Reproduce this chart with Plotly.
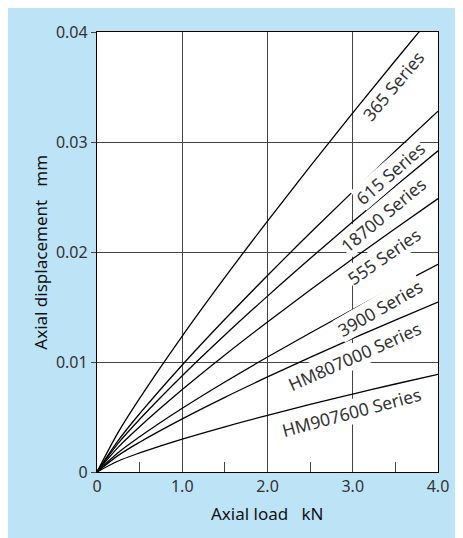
import plotly.graph_objects as go

# Axial load (kN)
load = [0, 0.25, 0.5, 1.0, 1.5, 2.0, 2.5, 3.0, 3.5, 4.0]

# Axial displacement (mm)
series_names = ["365 Series", "615 Series", "18700 Series", "555 Series",
                "3900 Series", "HM807000 Series", "HM907600 Series"]
s365 = [0, 0.00363, 0.00670, 0.01236, 0.01769, 0.02281, 0.02779, 0.03265, 0.03741, 0.04210]
s615 = [0, 0.00288, 0.00530, 0.00973, 0.01388, 0.01786, 0.02172, 0.02549, 0.02918, 0.03280]
s18700 = [0, 0.00262, 0.00479, 0.00875, 0.01245, 0.01599, 0.01941, 0.02274, 0.02600, 0.02920]
s555 = [0, 0.00226, 0.00411, 0.00749, 0.01064, 0.01364, 0.01655, 0.01938, 0.02214, 0.02485]
s3900 = [0, 0.00177, 0.00320, 0.00579, 0.00818, 0.01045, 0.01264, 0.01477, 0.01685, 0.01888]
s807 = [0, 0.00151, 0.00271, 0.00483, 0.00679, 0.00864, 0.01042, 0.01214, 0.01381, 0.01545]
s907 = [0, 0.00100, 0.00173, 0.00299, 0.00411, 0.00515, 0.00614, 0.00708, 0.00800, 0.00888]
series_values = [s365, s615, s18700, s555, s3900, s807, s907]

# label placement (data coords) and angles
label_x = [3.47, 3.44, 3.35, 3.37, 3.32, 3.02, 2.98]
label_y = [0.0351, 0.0272, 0.0234, 0.0196, 0.0149, 0.01056, 0.00547]
label_angle = [-50, -41, -40, -35, -30, -24, -15]

x_ticks = [0, 1, 2, 3, 4]
x_ticktext = ["0", "1.0", "2.0", "3.0", "4.0"]
y_ticks = [0, 0.01, 0.02, 0.03, 0.04]
y_ticktext = ["0", "0.01", "0.02", "0.03", "0.04"]

FONT = "Noto Sans"
TXT = "#333333"

fig = go.Figure()
for name, vals in zip(series_names, series_values):
    fig.add_trace(go.Scatter(x=load, y=vals, mode="lines", name=name,
                             line=dict(color="black", width=1.3, shape="spline"),
                             showlegend=False, hoverinfo="skip"))

annotations = []
for name, lx, ly, ang in zip(series_names, label_x, label_y, label_angle):
    annotations.append(dict(x=lx, y=ly, xref="x", yref="y", text=name,
                            showarrow=False, textangle=ang,
                            font=dict(family=FONT, size=17.5, color=TXT),
                            bgcolor="white", borderpad=0))
annotations.append(dict(x=0.5, y=-0.094, xref="paper", yref="paper",
                        text="Axial load&nbsp;&nbsp;&nbsp;kN", showarrow=False,
                        font=dict(family=FONT, size=17, color="#111111"),
                        xanchor="center", yanchor="middle"))
annotations.append(dict(x=-0.168, y=0.5, xref="paper", yref="paper",
                        text="Axial displacement&nbsp;&nbsp;&nbsp;mm", showarrow=False,
                        textangle=-90,
                        font=dict(family=FONT, size=17, color="#111111"),
                        xanchor="center", yanchor="middle"))

fig.update_layout(
    width=455, height=530,
    margin=dict(l=89, r=25, t=24, b=66),
    paper_bgcolor="#BDE3F7",
    plot_bgcolor="white",
    annotations=annotations,
)

fig.update_xaxes(range=[0, 4], tickvals=x_ticks, ticktext=x_ticktext,
                 showgrid=True, gridcolor="#444444", gridwidth=1,
                 showline=True, linecolor="black", linewidth=1.3, mirror=True,
                 ticks="", zeroline=False,
                 tickfont=dict(family=FONT, size=16, color=TXT),
                 minor=dict(tickvals=[0.5, 1.5, 2.5, 3.5], ticks="inside",
                            ticklen=10, tickcolor="#444444", tickwidth=1,
                            showgrid=False))
fig.update_yaxes(range=[0, 0.04], tickvals=y_ticks, ticktext=y_ticktext,
                 showgrid=True, gridcolor="#444444", gridwidth=1,
                 showline=True, linecolor="black", linewidth=1.3, mirror=True,
                 ticks="outside", ticklen=5, tickcolor="#444444",
                 zeroline=False,
                 tickfont=dict(family=FONT, size=16, color=TXT))

fig.write_html("out.html")
